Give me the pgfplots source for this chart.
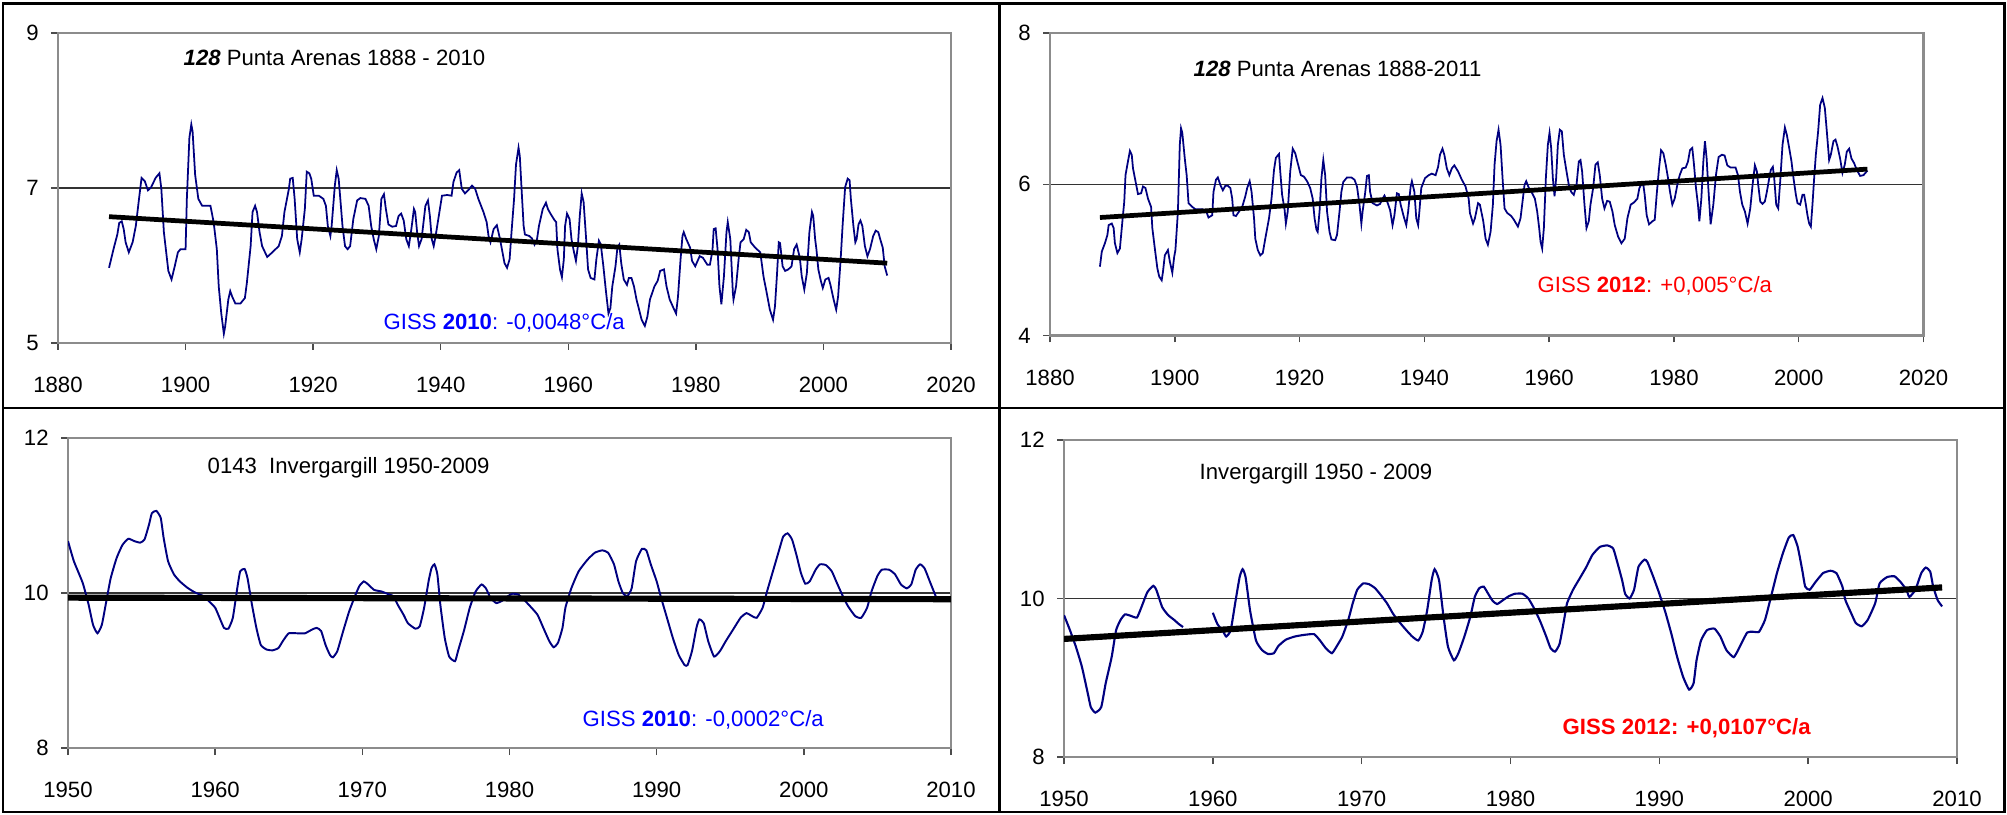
\documentclass[border=0pt]{standalone}
\usepackage{fontspec}
\setmainfont{Liberation Sans}
\usepackage{pgfplots}
\pgfplotsset{compat=1.18}

\definecolor{navy}{RGB}{0,0,128}
\newcommand{\lbl}{\fontsize{6.3}{7.5}\selectfont}

\pgfplotsset{
  panel/.style={
    scale only axis,
    anchor=south west,
    axis line style={black!45, line width=0.7pt},
    tick align=outside,
    xtick pos=bottom, ytick pos=left,
    major tick length=0.7mm,
    tick style={black!70, line width=0.4pt},
    ymajorgrids,
    grid style={black!80, line width=0.35pt},
    ticklabel style={font=\lbl},
    /pgf/number format/1000 sep={},
    /pgf/number format/assume math mode=true,
    xticklabel style={yshift=-1.5mm},
  },
  series/.style={navy, line width=0.5pt, no marks},
  trend/.style={black, line width=1.35pt, no marks},
}

\begin{document}
\begin{tikzpicture}
\useasboundingbox (0,0) rectangle (200.7mm,81.4mm);

% ---------- top left: Punta Arenas, GISS 2010
\begin{axis}[panel, at={(5.8mm,47.1mm)}, width=89.3mm, height=31.0mm,
  xmin=1880, xmax=2020, ymin=5, ymax=9,
  xtick={1880,1900,...,2020}, ytick={5,7,9}]
\addplot[series] coordinates {
(1888.0,5.97) (1888.7,6.21) (1889.3,6.40) (1889.6,6.55) (1890.0,6.57) (1890.3,6.47)
(1890.6,6.30) (1891.1,6.17) (1891.7,6.30) (1892.2,6.51) (1892.7,6.86) (1893.1,7.13)
(1893.6,7.09) (1894.1,6.97) (1894.6,7.01) (1895.3,7.13) (1895.9,7.19) (1896.2,6.99)
(1896.6,6.43) (1897.3,5.93) (1897.8,5.82) (1898.3,5.99) (1898.8,6.17) (1899.2,6.21)
(1900.0,6.21) (1900.2,6.86) (1900.6,7.65) (1900.9,7.82) (1901.1,7.73) (1901.5,7.17)
(1902.0,6.86) (1902.6,6.77) (1903.9,6.77) (1904.4,6.56) (1904.9,6.21) (1905.2,5.73)
(1905.6,5.38) (1906.0,5.12) (1906.2,5.21) (1906.7,5.56) (1907.0,5.67) (1907.3,5.60)
(1907.8,5.51) (1908.6,5.51) (1909.3,5.58) (1909.6,5.77) (1910.2,6.25) (1910.5,6.69)
(1910.9,6.77) (1911.2,6.69) (1911.6,6.43) (1912.0,6.25) (1912.8,6.11) (1913.6,6.17)
(1914.6,6.25) (1915.1,6.38) (1915.5,6.69) (1916.2,6.99) (1916.4,7.12) (1916.8,7.13)
(1917.1,6.86) (1917.5,6.34) (1917.9,6.17) (1918.2,6.34) (1918.7,6.73) (1919.0,7.21)
(1919.4,7.19) (1919.7,7.12) (1920.1,6.90) (1920.9,6.90) (1921.6,6.86) (1922.0,6.77)
(1922.3,6.51) (1922.7,6.38) (1922.9,6.51) (1923.4,7.03) (1923.7,7.23) (1924.0,7.12)
(1924.3,6.82) (1924.6,6.51) (1925.0,6.25) (1925.4,6.21) (1925.8,6.25) (1926.3,6.60)
(1926.9,6.84) (1927.4,6.87) (1928.2,6.86) (1928.7,6.77) (1929.1,6.51) (1929.5,6.34)
(1929.9,6.21) (1930.3,6.38) (1930.7,6.86) (1931.1,6.92) (1931.4,6.73) (1931.8,6.53)
(1932.4,6.50) (1933.0,6.51) (1933.4,6.64) (1933.8,6.67) (1934.2,6.58) (1934.6,6.34)
(1935.0,6.25) (1935.4,6.47) (1935.8,6.73) (1936.0,6.69) (1936.3,6.43) (1936.6,6.25)
(1937.0,6.34) (1937.6,6.77) (1938.0,6.84) (1938.3,6.64) (1938.6,6.34) (1938.9,6.25)
(1939.2,6.38) (1939.7,6.64) (1940.2,6.90) (1941.0,6.91) (1941.7,6.90) (1942.0,7.08)
(1942.5,7.20) (1942.9,7.23) (1943.3,6.99) (1943.8,6.93) (1944.4,6.98) (1944.9,7.03)
(1945.4,6.99) (1945.9,6.86) (1946.7,6.69) (1947.2,6.56) (1947.5,6.38) (1947.8,6.30)
(1948.3,6.47) (1948.8,6.52) (1949.3,6.34) (1950.0,6.03) (1950.4,5.97) (1950.8,6.08)
(1951.1,6.43) (1951.5,6.86) (1951.8,7.30) (1952.2,7.52) (1952.4,7.41) (1952.7,6.95)
(1953.0,6.51) (1953.2,6.40) (1953.9,6.38) (1954.3,6.35) (1954.7,6.27) (1955.1,6.34)
(1955.4,6.51) (1956.0,6.73) (1956.5,6.81) (1956.8,6.73) (1957.2,6.67) (1957.8,6.59)
(1958.1,6.56) (1958.3,6.21) (1958.7,5.95) (1959.0,5.85) (1959.3,6.08) (1959.5,6.51)
(1959.8,6.67) (1960.2,6.60) (1960.5,6.34) (1960.9,6.17) (1961.2,6.06) (1961.5,6.25)
(1961.8,6.64) (1962.1,6.93) (1962.4,6.82) (1962.8,6.34) (1963.1,5.95) (1963.5,5.84)
(1964.1,5.82) (1964.4,6.08) (1964.8,6.32) (1965.1,6.27) (1965.5,5.99) (1965.9,5.67)
(1966.3,5.38) (1966.6,5.45) (1966.9,5.73) (1967.4,5.99) (1967.7,6.23) (1968.0,6.27)
(1968.3,6.03) (1968.7,5.82) (1969.2,5.75) (1969.5,5.84) (1969.9,5.84) (1970.3,5.73)
(1970.7,5.56) (1971.1,5.43) (1971.5,5.30) (1972.0,5.22) (1972.4,5.34) (1972.8,5.56)
(1973.5,5.73) (1974.0,5.80) (1974.4,5.93) (1975.0,5.95) (1975.4,5.73) (1975.9,5.56)
(1976.5,5.45) (1976.9,5.38) (1977.2,5.60) (1977.6,6.08) (1977.9,6.38) (1978.1,6.43)
(1978.5,6.34) (1979.1,6.23) (1979.4,6.06) (1979.9,5.99) (1980.6,6.12) (1981.1,6.10)
(1981.8,6.01) (1982.2,6.01) (1982.6,6.19) (1982.8,6.47) (1983.1,6.48) (1983.4,6.21)
(1983.7,5.73) (1984.0,5.50) (1984.4,5.86) (1984.8,6.43) (1985.0,6.56) (1985.4,6.34)
(1985.8,5.65) (1985.9,5.56) (1986.3,5.73) (1986.7,6.08) (1987.0,6.30) (1987.5,6.34)
(1987.9,6.46) (1988.3,6.43) (1988.6,6.30) (1989.3,6.23) (1990.1,6.17) (1990.6,5.86)
(1991.1,5.65) (1991.6,5.43) (1992.1,5.30) (1992.4,5.47) (1992.7,5.86) (1993.0,6.30)
(1993.2,6.29) (1993.6,5.99) (1994.0,5.93) (1994.5,5.95) (1995.0,5.99) (1995.4,6.21)
(1995.8,6.27) (1996.3,6.10) (1996.6,5.86) (1997.0,5.69) (1997.4,5.90) (1997.8,6.43)
(1998.2,6.69) (1998.4,6.64) (1998.7,6.34) (1998.9,6.21) (1999.2,5.95) (1999.6,5.80)
(1999.9,5.71) (2000.3,5.82) (2000.8,5.84) (2001.1,5.75) (2001.6,5.56) (2002.0,5.43)
(2002.3,5.60) (2002.7,6.08) (2003.0,6.51) (2003.4,7.01) (2003.8,7.12) (2004.1,7.10)
(2004.3,6.86) (2004.7,6.51) (2005.0,6.30) (2005.2,6.34) (2005.5,6.53) (2005.8,6.58)
(2006.1,6.51) (2006.5,6.25) (2006.9,6.12) (2007.3,6.21) (2007.8,6.38) (2008.2,6.45)
(2008.6,6.43) (2008.9,6.34) (2009.3,6.23) (2009.6,5.99) (2010.0,5.87)
};
\addplot[trend] coordinates {(1888,6.63) (2010,6.03)};
\end{axis}

% ---------- top right: Punta Arenas, GISS 2012
\begin{axis}[panel, at={(105.0mm,47.85mm)}, width=87.35mm, height=30.25mm,
  xmin=1880, xmax=2020, ymin=4, ymax=8,
  xtick={1880,1900,...,2020}, ytick={4,6,8}]
\addplot[series] coordinates {
(1888.0,4.91) (1888.3,5.11) (1888.8,5.22) (1889.2,5.33) (1889.4,5.46) (1889.9,5.48)
(1890.2,5.42) (1890.4,5.22) (1890.8,5.09) (1891.2,5.15) (1891.6,5.51) (1891.9,5.77)
(1892.1,6.12) (1892.4,6.26) (1892.8,6.44) (1893.1,6.39) (1893.3,6.21) (1893.7,6.04)
(1894.1,5.87) (1894.6,5.88) (1894.9,5.97) (1895.3,5.95) (1895.7,5.81) (1896.2,5.70)
(1896.4,5.42) (1896.8,5.15) (1897.2,4.89) (1897.5,4.78) (1897.9,4.73) (1898.1,4.84)
(1898.4,5.06) (1898.9,5.13) (1899.2,4.98) (1899.6,4.83) (1899.9,5.04) (1900.1,5.13)
(1900.5,5.64) (1900.8,6.52) (1901.0,6.74) (1901.2,6.68) (1901.6,6.34) (1901.9,6.12)
(1902.2,5.75) (1902.8,5.70) (1903.3,5.67) (1904.4,5.67) (1905.0,5.65) (1905.4,5.56)
(1906.0,5.59) (1906.2,5.90) (1906.6,6.06) (1906.9,6.09) (1907.3,5.99) (1907.7,5.92)
(1908.1,5.98) (1908.5,5.98) (1908.9,5.95) (1909.2,5.81) (1909.4,5.59) (1909.8,5.58)
(1910.3,5.64) (1910.8,5.70) (1911.3,5.84) (1911.6,5.95) (1912.0,6.04) (1912.3,5.90)
(1912.7,5.55) (1912.9,5.28) (1913.3,5.13) (1913.7,5.06) (1914.1,5.09) (1914.5,5.28)
(1915.1,5.55) (1915.5,5.81) (1915.9,6.19) (1916.2,6.35) (1916.7,6.40) (1916.9,6.17)
(1917.2,5.86) (1917.6,5.66) (1917.8,5.48) (1918.1,5.64) (1918.5,6.17) (1918.9,6.47)
(1919.3,6.41) (1919.7,6.28) (1920.2,6.12) (1920.7,6.10) (1921.2,6.04) (1921.7,5.95)
(1922.1,5.81) (1922.4,5.55) (1922.7,5.40) (1922.9,5.37) (1923.2,5.64) (1923.5,6.08)
(1923.8,6.32) (1924.1,6.12) (1924.4,5.64) (1924.8,5.37) (1925.1,5.27) (1925.7,5.26)
(1926.0,5.33) (1926.4,5.64) (1926.7,5.90) (1927.0,6.03) (1927.6,6.09) (1928.3,6.09)
(1928.8,6.06) (1929.2,5.97) (1929.6,5.73) (1929.9,5.48) (1930.1,5.64) (1930.5,5.88)
(1930.8,6.11) (1931.1,6.12) (1931.3,5.90) (1931.7,5.75) (1932.4,5.72) (1932.9,5.74)
(1933.3,5.81) (1933.6,5.85) (1934.0,5.78) (1934.5,5.66) (1934.9,5.46) (1935.2,5.59)
(1935.6,5.88) (1935.9,5.87) (1936.2,5.73) (1936.7,5.57) (1937.1,5.46) (1937.4,5.64)
(1937.8,5.97) (1938.0,6.04) (1938.4,5.90) (1938.7,5.55) (1939.0,5.46) (1939.2,5.64)
(1939.5,5.95) (1940.1,6.08) (1940.7,6.12) (1941.2,6.14) (1941.8,6.12) (1942.2,6.23)
(1942.5,6.39) (1942.9,6.47) (1943.2,6.39) (1943.6,6.21) (1944.0,6.12) (1944.4,6.21)
(1944.8,6.25) (1945.4,6.17) (1946.0,6.06) (1946.6,5.97) (1947.1,5.81) (1947.3,5.62)
(1947.8,5.48) (1948.1,5.55) (1948.6,5.75) (1948.9,5.73) (1949.44,5.51) (1949.81,5.28)
(1950.18,5.20) (1950.61,5.37) (1950.98,5.73) (1951.25,6.26) (1951.57,6.57) (1951.89,6.72)
(1952.21,6.52) (1952.53,6.08) (1952.85,5.68) (1953.28,5.62) (1953.92,5.58) (1954.35,5.53)
(1954.99,5.44) (1955.41,5.55) (1955.73,5.77) (1956.05,5.99) (1956.32,6.04) (1956.75,5.95)
(1957.28,5.88) (1957.71,5.81) (1958.08,5.64) (1958.40,5.42) (1958.62,5.24) (1958.88,5.15)
(1959.15,5.42) (1959.47,6.08) (1959.79,6.52) (1960.06,6.68) (1960.32,6.48) (1960.59,6.08)
(1960.86,5.84) (1961.12,6.08) (1961.39,6.52) (1961.71,6.72) (1962.03,6.70) (1962.35,6.39)
(1962.78,6.17) (1963.15,5.99) (1963.52,5.90) (1963.95,5.86) (1964.38,5.99) (1964.75,6.30)
(1965.02,6.32) (1965.28,6.17) (1965.66,5.73) (1965.98,5.42) (1966.35,5.51) (1966.62,5.73)
(1967.05,5.95) (1967.42,6.26) (1967.79,6.29) (1968.11,6.12) (1968.49,5.81) (1968.86,5.68)
(1969.29,5.78) (1969.71,5.77) (1970.14,5.64) (1970.51,5.46) (1971.04,5.31) (1971.58,5.22)
(1972.11,5.28) (1972.54,5.55) (1973.07,5.73) (1973.61,5.76) (1974.14,5.81) (1974.46,5.95)
(1974.78,6.00) (1975.10,5.99) (1975.31,5.86) (1975.63,5.59) (1976.01,5.47) (1976.54,5.51)
(1976.92,5.53) (1977.23,5.86) (1977.61,6.21) (1977.93,6.45) (1978.30,6.41) (1978.68,6.26)
(1979.05,6.08) (1979.37,5.90) (1979.74,5.73) (1980.12,5.81) (1980.54,5.99) (1980.92,6.12)
(1981.34,6.21) (1981.88,6.22) (1982.25,6.30) (1982.57,6.45) (1982.94,6.48) (1983.21,6.26)
(1983.53,5.95) (1983.85,5.73) (1984.07,5.51) (1984.39,5.81) (1984.71,6.30) (1984.97,6.57)
(1985.24,6.34) (1985.51,5.95) (1985.88,5.47) (1986.31,5.73) (1986.73,6.12) (1987.16,6.36)
(1987.69,6.39) (1988.12,6.38) (1988.55,6.25) (1989.08,6.22) (1989.88,6.22) (1990.26,6.12)
(1990.58,5.90) (1990.95,5.73) (1991.37,5.64) (1991.80,5.48) (1992.23,5.68) (1992.60,5.99)
(1992.97,6.25) (1993.29,6.17) (1993.51,5.99) (1993.83,5.77) (1994.20,5.74) (1994.57,5.77)
(1994.89,5.90) (1995.27,6.08) (1995.53,6.19) (1995.85,6.23) (1996.07,6.08) (1996.39,5.73)
(1996.71,5.68) (1997.03,6.04) (1997.40,6.52) (1997.78,6.75) (1998.10,6.65) (1998.47,6.48)
(1998.84,6.30) (1999.16,6.08) (1999.54,5.86) (1999.80,5.75) (2000.23,5.73) (2000.60,5.86)
(2000.87,5.86) (2001.14,5.73) (2001.40,5.59) (2001.67,5.48) (2001.94,5.44) (2002.20,5.73)
(2002.47,6.08) (2002.74,6.39) (2003.11,6.70) (2003.43,7.05) (2003.81,7.14) (2004.18,7.01)
(2004.50,6.70) (2004.87,6.32) (2005.14,6.39) (2005.57,6.57) (2005.89,6.59) (2006.21,6.50)
(2006.63,6.34) (2007.01,6.15) (2007.38,6.26) (2007.70,6.43) (2008.08,6.47) (2008.45,6.34)
(2008.87,6.28) (2009.30,6.19) (2009.84,6.11) (2010.37,6.12) (2011.01,6.18)
};
\addplot[trend] coordinates {(1888,5.56) (2011,6.20)};
\end{axis}

% ---------- bottom left: Invergargill, GISS 2010
\begin{axis}[panel, at={(6.8mm,6.6mm)}, width=88.3mm, height=31.0mm,
  xmin=1950, xmax=2010, ymin=8, ymax=12,
  xtick={1950,1960,...,2010}, ytick={8,10,12}]
\addplot[series, smooth, tension=0.3, line width=0.55pt] coordinates {
(1950.0,10.67) (1950.4,10.41) (1951.0,10.13) (1951.4,9.85) (1951.7,9.59) (1952.0,9.48)
(1952.3,9.59) (1952.6,9.89) (1952.9,10.19) (1953.3,10.45) (1953.7,10.62) (1954.1,10.70)
(1954.5,10.67) (1954.9,10.65) (1955.2,10.69) (1955.5,10.88) (1955.7,11.03) (1956.0,11.06)
(1956.3,10.97) (1956.5,10.71) (1956.8,10.41) (1957.2,10.24) (1957.6,10.15) (1958.1,10.07)
(1958.6,10.01) (1959.2,9.96) (1959.6,9.89) (1960.0,9.81) (1960.3,9.68) (1960.6,9.55)
(1960.9,9.54) (1961.2,9.68) (1961.5,10.06) (1961.7,10.28) (1962.0,10.31) (1962.2,10.19)
(1962.5,9.85) (1962.8,9.55) (1963.1,9.33) (1963.5,9.27) (1963.9,9.26) (1964.3,9.29)
(1964.6,9.38) (1965.0,9.48) (1965.6,9.48) (1966.1,9.48) (1966.6,9.53) (1966.9,9.55)
(1967.2,9.51) (1967.5,9.33) (1967.8,9.20) (1968.0,9.17) (1968.3,9.25) (1968.7,9.51)
(1969.1,9.76) (1969.5,9.96) (1969.8,10.09) (1970.1,10.15) (1970.4,10.11) (1970.8,10.04)
(1971.3,10.02) (1971.7,9.99) (1972.1,9.96) (1972.4,9.85) (1972.8,9.72) (1973.1,9.61)
(1973.6,9.54) (1973.9,9.57) (1974.2,9.81) (1974.5,10.15) (1974.7,10.32) (1974.9,10.37)
(1975.1,10.24) (1975.3,9.85) (1975.6,9.42) (1975.9,9.18) (1976.3,9.12) (1976.5,9.25)
(1976.9,9.51) (1977.3,9.81) (1977.7,10.02) (1978.1,10.11) (1978.4,10.06) (1978.7,9.94)
(1979.1,9.87) (1979.5,9.90) (1979.9,9.96) (1980.2,9.99) (1980.6,9.98) (1981.0,9.91)
(1981.4,9.83) (1981.9,9.72) (1982.3,9.55) (1982.7,9.38) (1983.0,9.30) (1983.3,9.36)
(1983.6,9.55) (1983.8,9.81) (1984.2,10.06) (1984.7,10.28) (1985.3,10.43) (1985.8,10.52)
(1986.3,10.55) (1986.7,10.52) (1987.1,10.37) (1987.4,10.15) (1987.7,10.00) (1988.0,9.96)
(1988.3,10.06) (1988.6,10.41) (1989.0,10.57) (1989.3,10.55) (1989.6,10.37) (1990.0,10.15)
(1990.3,9.94) (1990.7,9.68) (1991.1,9.42) (1991.5,9.20) (1991.9,9.07) (1992.1,9.07)
(1992.4,9.25) (1992.7,9.55) (1992.9,9.66) (1993.2,9.61) (1993.5,9.38) (1993.9,9.18)
(1994.3,9.25) (1994.7,9.38) (1995.2,9.53) (1995.7,9.68) (1996.1,9.74) (1996.5,9.70)
(1996.8,9.68) (1997.2,9.81) (1997.5,10.02) (1997.9,10.28) (1998.3,10.54) (1998.6,10.73)
(1998.9,10.77) (1999.2,10.69) (1999.5,10.49) (1999.8,10.26) (2000.1,10.12) (2000.4,10.15)
(2000.8,10.30) (2001.1,10.37) (2001.5,10.36) (2001.9,10.28) (2002.2,10.15) (2002.6,9.98)
(2003.0,9.83) (2003.5,9.70) (2003.9,9.68) (2004.3,9.81) (2004.6,10.02) (2005.0,10.22)
(2005.3,10.30) (2005.8,10.30) (2006.2,10.24) (2006.6,10.11) (2007.0,10.06) (2007.3,10.11)
(2007.6,10.30) (2007.9,10.37) (2008.2,10.32) (2008.6,10.13) (2009.0,9.94)
};
\addplot[trend, line width=1.75pt] coordinates {(1950,9.94) (2010,9.92)};
\end{axis}

% ---------- bottom right: Invergargill, GISS 2012
\begin{axis}[panel, at={(106.4mm,5.7mm)}, width=89.3mm, height=31.7mm,
  xmin=1950, xmax=2010, ymin=8, ymax=12,
  xtick={1950,1960,...,2010}, ytick={8,10,12}]
\addplot[series, smooth, tension=0.3, line width=0.6pt] coordinates {
(1950.0,9.79) (1950.4,9.60) (1950.8,9.39) (1951.2,9.14) (1951.6,8.80) (1951.8,8.63)
(1952.1,8.56) (1952.5,8.63) (1952.8,8.93) (1953.2,9.26) (1953.5,9.60) (1953.8,9.73)
(1954.1,9.80) (1954.5,9.78) (1954.9,9.76) (1955.2,9.89) (1955.6,10.08) (1956.0,10.16)
(1956.2,10.11) (1956.6,9.89) (1957.0,9.79) (1957.4,9.73) (1957.7,9.68) (1958.0,9.64)
};
\addplot[series, smooth, tension=0.3, line width=0.6pt] coordinates {
(1960.0,9.82) (1960.3,9.68) (1960.7,9.58) (1960.9,9.52) (1961.2,9.60) (1961.5,9.94)
(1961.8,10.27) (1962.0,10.37) (1962.2,10.27) (1962.5,9.85) (1962.9,9.47) (1963.3,9.35)
(1963.7,9.30) (1964.1,9.31) (1964.4,9.40) (1964.9,9.48) (1965.5,9.52) (1966.1,9.54)
(1966.8,9.55) (1967.2,9.47) (1967.6,9.37) (1968.0,9.31) (1968.3,9.39) (1968.7,9.52)
(1969.1,9.73) (1969.4,9.94) (1969.7,10.11) (1970.1,10.19) (1970.5,10.18) (1970.9,10.13)
(1971.3,10.04) (1971.7,9.94) (1972.1,9.81) (1972.5,9.71) (1973.0,9.60) (1973.4,9.52)
(1973.8,9.47) (1974.1,9.58) (1974.4,9.85) (1974.7,10.23) (1974.9,10.37) (1975.2,10.23)
(1975.5,9.77) (1975.8,9.39) (1976.2,9.22) (1976.5,9.31) (1976.9,9.52) (1977.3,9.77)
(1977.6,10.02) (1977.9,10.13) (1978.2,10.15) (1978.5,10.06) (1978.8,9.97) (1979.1,9.93)
(1979.5,9.98) (1979.9,10.03) (1980.3,10.06) (1980.8,10.06) (1981.2,10.00) (1981.6,9.87)
(1982.0,9.71) (1982.4,9.52) (1982.7,9.37) (1983.0,9.33) (1983.3,9.43) (1983.6,9.73)
(1983.8,9.94) (1984.2,10.11) (1984.7,10.27) (1985.1,10.40) (1985.5,10.55) (1986.0,10.65)
(1986.5,10.67) (1986.9,10.63) (1987.2,10.44) (1987.5,10.23) (1987.7,10.06) (1988.0,10.00)
(1988.3,10.11) (1988.6,10.40) (1989.0,10.49) (1989.2,10.46) (1989.6,10.27) (1990.0,10.06)
(1990.4,9.83) (1990.8,9.56) (1991.2,9.26) (1991.6,9.01) (1992.0,8.85) (1992.3,8.93)
(1992.5,9.22) (1992.8,9.47) (1993.2,9.60) (1993.7,9.62) (1994.1,9.52) (1994.5,9.35)
(1995.0,9.26) (1995.4,9.39) (1995.9,9.57) (1996.3,9.58) (1996.7,9.58) (1997.1,9.73)
(1997.5,10.02) (1997.9,10.32) (1998.3,10.57) (1998.7,10.77) (1999.0,10.80) (1999.3,10.65)
(1999.6,10.36) (1999.8,10.15) (2000.1,10.11) (2000.5,10.21) (2001.0,10.32) (2001.5,10.35)
(2001.9,10.32) (2002.3,10.15) (2002.5,9.98) (2002.9,9.81) (2003.2,9.69) (2003.6,9.65)
(2004.0,9.73) (2004.5,9.94) (2004.8,10.19) (2005.3,10.27) (2005.8,10.28) (2006.2,10.21)
(2006.6,10.11) (2006.8,10.02) (2007.2,10.11) (2007.6,10.32) (2007.9,10.39) (2008.2,10.34)
(2008.4,10.15) (2008.7,9.98) (2009.0,9.90)
};
\addplot[trend, line width=1.75pt] coordinates {(1950,9.49) (2009,10.14)};
\end{axis}

% ---------- frame of the table
\draw[line width=0.85pt] (0.3mm,0.2mm) rectangle (200.4mm,81.0mm);
\draw[line width=0.85pt] (99.9mm,0.2mm) -- (99.9mm,81.0mm);
\draw[line width=0.85pt] (0.3mm,40.6mm) -- (200.4mm,40.6mm);

% ---------- texts in the plots
\node[anchor=west, inner sep=0pt, font=\lbl] at (18.3mm,75.6mm)
  {\textbf{\textit{128}} Punta Arenas 1888 - 2010};
\node[anchor=west, inner sep=0pt, font=\lbl, text=blue] at (38.3mm,49.1mm)
  {GISS \textbf{2010}: -0,0048°C/a};
\node[anchor=west, inner sep=0pt, font=\lbl] at (119.3mm,74.5mm)
  {\textbf{\textit{128}} Punta Arenas 1888-2011};
\node[anchor=west, inner sep=0pt, font=\lbl, text=red] at (153.7mm,52.8mm)
  {GISS \textbf{2012}: +0,005°C/a};
\node[anchor=west, inner sep=0pt, font=\lbl] at (20.7mm,34.6mm)
  {0143\ \ Invergargill 1950-2009};
\node[anchor=west, inner sep=0pt, font=\lbl, text=blue] at (58.2mm,9.4mm)
  {GISS \textbf{2010}: -0,0002°C/a};
\node[anchor=west, inner sep=0pt, font=\lbl] at (119.9mm,34.0mm)
  {Invergargill 1950 - 2009};
\node[anchor=west, inner sep=0pt, font=\lbl\bfseries, text=red] at (156.2mm,8.6mm)
  {GISS 2012: +0,0107°C/a};
\end{tikzpicture}
\end{document}
